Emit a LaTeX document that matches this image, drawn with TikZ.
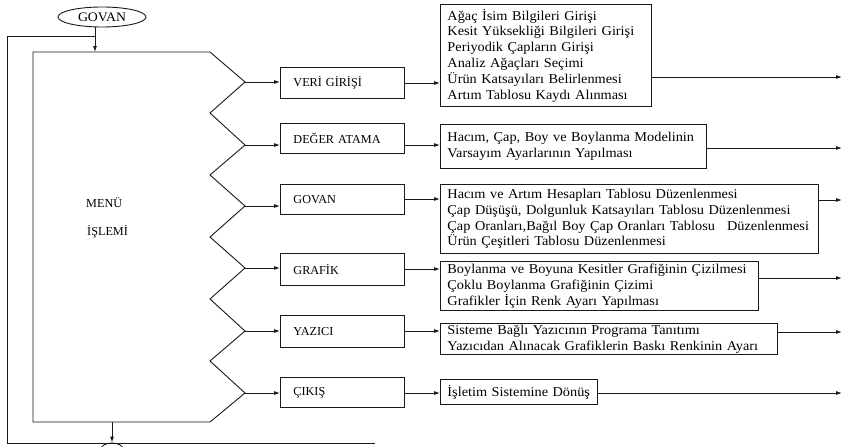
\documentclass[tikz,border=0pt]{standalone}
\usepackage{fontspec}
\setmainfont{Liberation Serif}
\newfontfamily\descfont[FakeStretch=1.06]{Liberation Serif}
\usetikzlibrary{arrows.meta,shapes.geometric}
\definecolor{ink}{rgb}{0.1,0.1,0.1}
\begin{document}
\begin{tikzpicture}[x=1pt,y=-1pt,
  line/.style={draw=ink,line width=0.9pt},
  arr/.style={draw=ink,line width=0.9pt,-{Latex[length=6pt,width=4pt]}},
  menubox/.style={draw=ink,line width=0.9pt,anchor=north west,inner xsep=13pt,inner ysep=0pt,
    text width=98pt,align=left,font=\fontsize{12.2}{14}\selectfont,text=black},
  descbox/.style={draw=ink,line width=0.9pt,anchor=north west,inner xsep=7pt,inner ysep=0pt,
    align=left,font=\descfont\fontsize{13.5}{15.8}\selectfont,text=black},
  lbl/.style={font=\fontsize{12.2}{14}\selectfont,text=black,anchor=west,inner sep=0pt}]
\useasboundingbox (0,0) rectangle (844,447);
\fill[white] (0,0) rectangle (844,447);

% start terminal
\node[draw=ink,line width=0.9pt,ellipse,minimum width=88pt,minimum height=20pt,inner sep=0pt,
  font=\descfont\fontsize{13}{14}\selectfont,text=black] (start) at (102,17) {GOVAN};
\coordinate (t0) at (95,52);
\draw[arr] (start.south -| t0) -- (t0);

% menu shape
\coordinate (p1) at (245,82);
\coordinate (p2) at (245,145);
\coordinate (p3) at (245,206);
\coordinate (p4) at (245,268);
\coordinate (p5) at (245,331);
\coordinate (p6) at (245,393);
\coordinate (mb) at (112,422);
\draw[line,line join=miter] (33,52) -- (210,52) -- (p1) -- (210,113) -- (p2) -- (210,175) -- (p3)
  -- (210,237) -- (p4) -- (210,299) -- (p5) -- (210,361) -- (p6) -- (210,422) -- (33,422) -- cycle;
\node[lbl] (menu1) at (86,203) {MENÜ};
\node[lbl] (menu2) at (87,232) {İŞLEMİ};

% menu items
\node[menubox,minimum height=31pt] (m1) at (280,67) {VERİ GİRİŞİ};
\node[menubox,minimum height=30pt] (m2) at (280,123) {DEĞER ATAMA};
\node[menubox,minimum height=30pt] (m3) at (280,184) {GOVAN};
\node[menubox,minimum height=32pt] (m4) at (280,253) {GRAFİK};
\node[menubox,minimum height=32pt] (m5) at (280,315) {YAZICI};
\node[menubox,minimum height=30pt] (m6) at (280,377) {ÇIKIŞ};

\foreach \i in {1,...,6} { \draw[arr] (p\i) -- (p\i -| m\i.west); }

% descriptions
\node[descbox,text width=197pt,minimum height=102pt] (d1) at (440,4)
 {Ağaç İsim Bilgileri Girişi\\Kesit Yüksekliği Bilgileri Girişi\\Periyodik Çapların Girişi\\Analiz Ağaçları Seçimi\\Ürün Katsayıları Belirlenmesi\\Artım Tablosu Kaydı Alınması};
\node[descbox,text width=252pt,minimum height=44pt] (d2) at (440,124)
 {Hacım, Çap, Boy ve Boylanma Modelinin\\Varsayım Ayarlarının Yapılması};
\node[descbox,text width=364pt,minimum height=69pt] (d3) at (440,184)
 {Hacım ve Artım Hesapları Tablosu Düzenlenmesi\\Çap Düşüşü, Dolgunluk Katsayıları Tablosu Düzenlenmesi\\\mbox{Çap Oranları,Bağıl Boy Çap Oranları Tablosu\hspace{0.9em}Düzenlenmesi}\\Ürün Çeşitleri Tablosu Düzenlenmesi};
\node[descbox,text width=304pt,minimum height=49pt] (d4) at (440,261)
 {Boylanma ve Boyuna Kesitler Grafiğinin Çizilmesi\\Çoklu Boylanma Grafiğinin Çizimi\\Grafikler İçin Renk Ayarı Yapılması};
\node[descbox,text width=323pt,minimum height=31pt] (d5) at (440,323)
 {Sisteme Bağlı Yazıcının Programa Tanıtımı\\Yazıcıdan Alınacak Grafiklerin Baskı Renkinin Ayarı};
\node[descbox,text width=143pt,minimum height=25pt] (d6) at (440,379)
 {İşletim Sistemine Dönüş};

\coordinate (q1) at (0,83);
\coordinate (q2) at (0,145);
\coordinate (q3) at (0,199);
\coordinate (q4) at (0,269);
\coordinate (q5) at (0,331);
\coordinate (q6) at (0,393);
\foreach \i in {1,...,6} { \draw[arr] (m\i.east |- q\i) -- (d\i.west |- q\i); }

% outgoing lines
\coordinate (o1) at (842,77);
\coordinate (o2) at (842,148);
\coordinate (o3) at (842,200);
\coordinate (o4) at (842,278);
\coordinate (o5) at (842,332);
\coordinate (o6) at (842,393);
\foreach \i in {1,...,6} { \draw[arr] (d\i.east |- o\i) -- (o\i); }

% end terminal and return loop
\node[draw=ink,line width=0.9pt,ellipse,minimum width=22pt,minimum height=12pt,inner sep=0pt] (end) at (112,449) {};
\draw[arr] (mb) -- (end.north);
\coordinate (lp) at (375,443);
\coordinate (c1) at (7,443);
\coordinate (c2) at (7,36);
\coordinate (c3) at (95,36);
\draw[line] (lp) -- (c1) -- (c2) -- (c3);
\end{tikzpicture}
\end{document}
